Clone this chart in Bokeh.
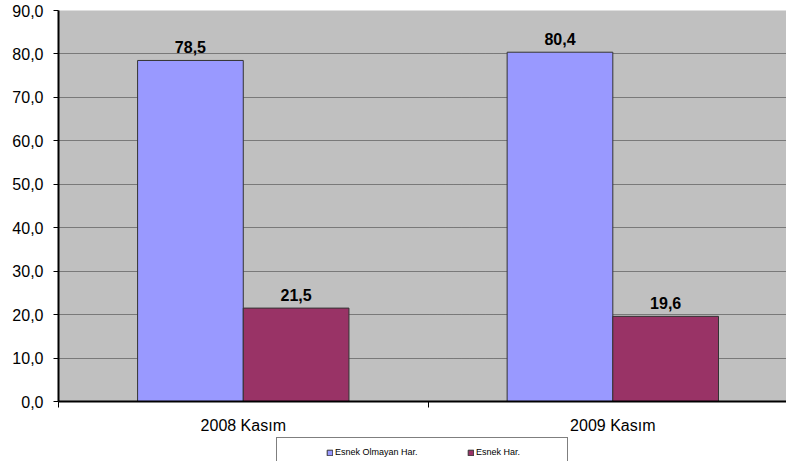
from bokeh.plotting import figure
from bokeh.layouts import column
from bokeh.models import (ColumnDataSource, Range1d, FixedTicker, Legend, LegendItem)
from bokeh.core.properties import value
from bokeh.embed import file_html
from bokeh.resources import INLINE

categories = ["2008 Kasım", "2009 Kasım"]
series_names = ["Esnek Olmayan Har.", "Esnek Har."]
esnek_olmayan = [78.5, 80.4]
esnek = [21.5, 19.6]
y_ticks = [0, 10, 20, 30, 40, 50, 60, 70, 80, 90]

colors = ["#9999FF", "#993366"]
outline = "#333333"
bar_w = 0.286
FONT = "Liberation Sans"

def fmt(v):
    return f"{v:.1f}".replace(".", ",")

p = figure(width=786, height=436, output_backend="svg", toolbar_location=None,
           x_range=Range1d(0, 1.97), y_range=Range1d(0, 90),
           min_border_left=58, min_border_right=0, min_border_top=10, min_border_bottom=34)
p.background_fill_color = "#C0C0C0"
p.border_fill_color = "white"
p.outline_line_color = None

sources = []
for k, vals in enumerate([esnek_olmayan, esnek]):
    off = (k - 0.5) * bar_w
    xs = [i + 0.5 + off for i in range(len(categories))]
    src = ColumnDataSource(dict(x=xs, top=vals, lab=[fmt(v) for v in vals]))
    sources.append(src)
    p.vbar(x="x", top="top", width=bar_w, bottom=0, source=src,
           fill_color=colors[k], line_color=outline, line_width=1)
    p.text(x="x", y="top", text="lab", source=src, text_align="center",
           text_baseline="bottom", y_offset=-7, text_font=value(FONT),
           text_font_style="bold", text_font_size="16px", text_color="black")

# y axis
ya = p.yaxis[0]
ya.ticker = FixedTicker(ticks=y_ticks)
ya.major_label_overrides = {t: fmt(t) for t in y_ticks}
ya.axis_line_color = "black"
ya.axis_line_width = 2
ya.major_tick_out = 5
ya.major_tick_in = 0
ya.minor_tick_line_color = None
ya.major_label_standoff = 10
ya.major_label_text_font = FONT
ya.major_label_text_font_size = "16px"
ya.major_label_text_color = "black"

# x axis
xa = p.xaxis[0]
xa.ticker = FixedTicker(ticks=[i + 0.5 for i in range(len(categories))],
                        minor_ticks=list(range(len(categories) + 1)))
xa.major_label_overrides = {i + 0.5: c for i, c in enumerate(categories)}
xa.axis_line_color = "black"
xa.axis_line_width = 2
xa.major_tick_out = 0
xa.major_tick_in = 0
xa.minor_tick_out = 6
xa.minor_tick_in = 0
xa.minor_tick_line_color = "black"
xa.major_label_standoff = 9
xa.major_label_text_font = FONT
xa.major_label_text_font_size = "16px"
xa.major_label_text_color = "black"

p.xgrid.grid_line_color = None
p.ygrid.ticker = FixedTicker(ticks=y_ticks)
p.ygrid.grid_line_color = "#333333"
p.ygrid.grid_line_dash = "1 1"
p.ygrid.grid_line_width = 1

# legend strip below the chart
lg = figure(width=786, height=25, output_backend="svg", toolbar_location=None,
            x_range=Range1d(0, 1), y_range=Range1d(0, 1),
            min_border_left=0, min_border_right=0, min_border_top=0, min_border_bottom=0)
lg.axis.visible = False
lg.grid.visible = False
lg.outline_line_color = None
lg.background_fill_color = "white"
lg.border_fill_color = "white"

dummy = lg.scatter(x=[0], y=[0], fill_alpha=0, line_alpha=0, visible=False)
box = Legend(items=[LegendItem(label=" ", renderers=[dummy])], location=(218, -28),
             padding=5, margin=0, glyph_width=1, glyph_height=40, label_height=40,
             label_width=279, label_standoff=0, border_line_color="black",
             border_line_width=1, background_fill_color="white", background_fill_alpha=1,
             label_text_font_size="1px")
lg.add_layout(box)

swatches = [lg.vbar(x="x", top="top", width=bar_w, source=s, fill_color=c,
                    line_color=outline, line_width=1, visible=False)
            for s, c in zip(sources, colors)]
items = Legend(items=[LegendItem(label=n, renderers=[r]) for n, r in zip(series_names, swatches)],
               location=(268, 4), orientation="horizontal", padding=0, margin=0,
               spacing=12, glyph_width=7, glyph_height=7, label_height=9, label_width=120,
               label_standoff=2, border_line_color=None, background_fill_alpha=0,
               label_text_font=FONT, label_text_font_size="9px", label_text_color="black")
lg.add_layout(items)

layout = column(p, lg, spacing=0)
open("out.html", "w").write(file_html(layout, INLINE))
